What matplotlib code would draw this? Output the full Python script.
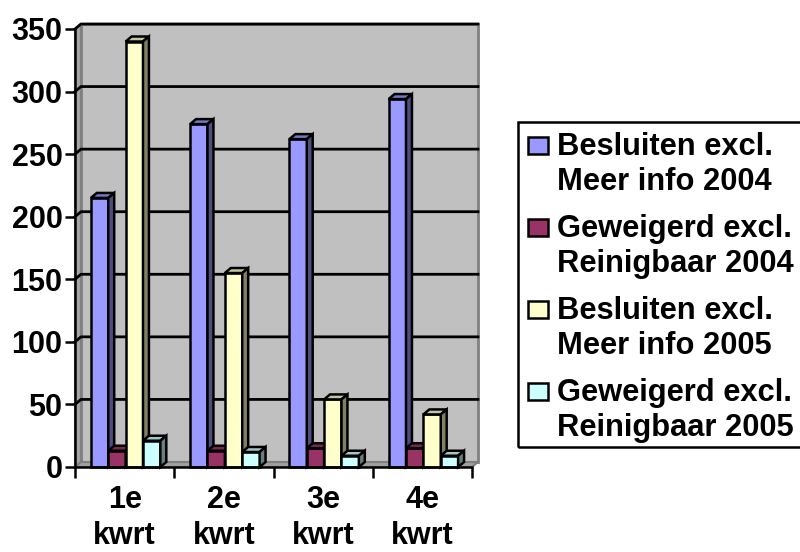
import matplotlib.pyplot as plt
import numpy as np
from matplotlib.patches import Polygon, Rectangle
import matplotlib.colors as mcolors

plt.rcParams['font.family'] = ['Liberation Sans', 'DejaVu Sans']
plt.rcParams['font.weight'] = 'bold'
plt.rcParams['font.size'] = 22

# data
quarters = ['1e\nkwrt', '2e\nkwrt', '3e\nkwrt', '4e\nkwrt']
series = ['Besluiten excl.\nMeer info 2004', 'Geweigerd excl.\nReinigbaar 2004',
          'Besluiten excl.\nMeer info 2005', 'Geweigerd excl.\nReinigbaar 2005']
besluiten_2004 = [215, 274, 262, 294]
geweigerd_2004 = [13, 13, 15, 15]
besluiten_2005 = [340, 155, 54, 42]
geweigerd_2005 = [21, 12, 9, 9]
values = [besluiten_2004, geweigerd_2004, besluiten_2005, geweigerd_2005]
colors = ['#9999FF', '#993366', '#FFFFCC', '#CCFFFF']

W, H = 800, 552
fig = plt.figure(figsize=(8, 5.52), dpi=100)
ax = fig.add_axes([75 / W, 1 - 467 / H, 397 / W, 438 / H])
ax.set_xlim(0, 4)
ax.set_ylim(0, 350)
ax.patch.set_visible(False)

# fake 3D depth (data units)
dx, dy = 0.06, 4.0
ymax = 350

def shade(c, f):
    r, g, b = mcolors.to_rgb(c)
    return (r * f, g * f, b * f)

# walls and floor
ax.add_patch(Polygon([(dx, dy), (4 + dx, dy), (4 + dx, ymax + dy), (dx, ymax + dy)],
                     closed=True, facecolor='#C0C0C0', edgecolor='#808080', lw=2,
                     clip_on=False, zorder=0))
ax.add_patch(Polygon([(0, 0), (dx, dy), (dx, ymax + dy), (0, ymax)],
                     closed=True, facecolor='#A6A6A6', edgecolor='#808080', lw=1.5,
                     clip_on=False, zorder=0))
ax.add_patch(Polygon([(0, 0), (4, 0), (4 + dx, dy), (dx, dy)],
                     closed=True, facecolor='#A0A0A0', edgecolor='#808080', lw=1.5,
                     clip_on=False, zorder=0))

# gridlines on back wall + side wall
for v in range(50, 351, 50):
    ax.plot([0, dx, 4 + dx], [v, v + dy, v + dy], color='black', lw=2,
            clip_on=False, zorder=1)

# bars
bw = 0.175
start = 0.16
for i in range(4):
    for s in range(4):
        x0 = i + start + s * bw
        v = values[s][i]
        c = colors[s]
        z = 3 + i * 4 + s
        ax.add_patch(Rectangle((x0, 0), bw, v, facecolor=c, edgecolor='black',
                               lw=1.8, zorder=z, clip_on=False))
        ax.add_patch(Polygon([(x0, v), (x0 + bw, v), (x0 + bw + dx, v + dy), (x0 + dx, v + dy)],
                             closed=True, facecolor=shade(c, 0.78), edgecolor='black',
                             lw=1.8, zorder=z, clip_on=False))
        ax.add_patch(Polygon([(x0 + bw, 0), (x0 + bw + dx, dy), (x0 + bw + dx, v + dy), (x0 + bw, v)],
                             closed=True, facecolor=shade(c, 0.5), edgecolor='black',
                             lw=1.8, zorder=z, clip_on=False))

# axes
for side in ['top', 'right']:
    ax.spines[side].set_visible(False)
for side in ['left', 'bottom']:
    ax.spines[side].set_linewidth(1.8)
    ax.spines[side].set_zorder(50)

ax.set_yticks(np.arange(0, 351, 50))
ax.tick_params(axis='y', direction='out', length=7, width=1.8, pad=2)
ax.set_xticks(np.arange(0, 5))
ax.set_xticklabels([])
ax.tick_params(axis='x', which='major', direction='out', length=8, width=1.8)
ax.set_xticks(np.arange(4) + 0.5, minor=True)
ax.set_xticklabels(quarters, minor=True, linespacing=1.28)
ax.tick_params(axis='x', which='minor', length=0, pad=13)

# legend (drawn by hand, swatch next to first line like Excel)
def fx(px):
    return px / W

def fy(py):
    return 1 - py / H

fig.patches.append(Rectangle((fx(518), fy(447)), fx(810) - fx(518), fy(122) - fy(447),
                             transform=fig.transFigure, fill=False, edgecolor='black', lw=1.8))
for s, lab in enumerate(series):
    top = 137 + 82 * s
    fig.patches.append(Rectangle((fx(528), fy(top + 17)), fx(20), 17 / H,
                                 transform=fig.transFigure, facecolor=colors[s],
                                 edgecolor='black', lw=1.8))
    for k, line in enumerate(lab.split('\n')):
        fig.text(fx(557), fy(155 + 82 * s + 35 * k), line, ha='left', va='baseline',
                 fontsize=22.2)

fig.savefig('out.png', dpi=100)
